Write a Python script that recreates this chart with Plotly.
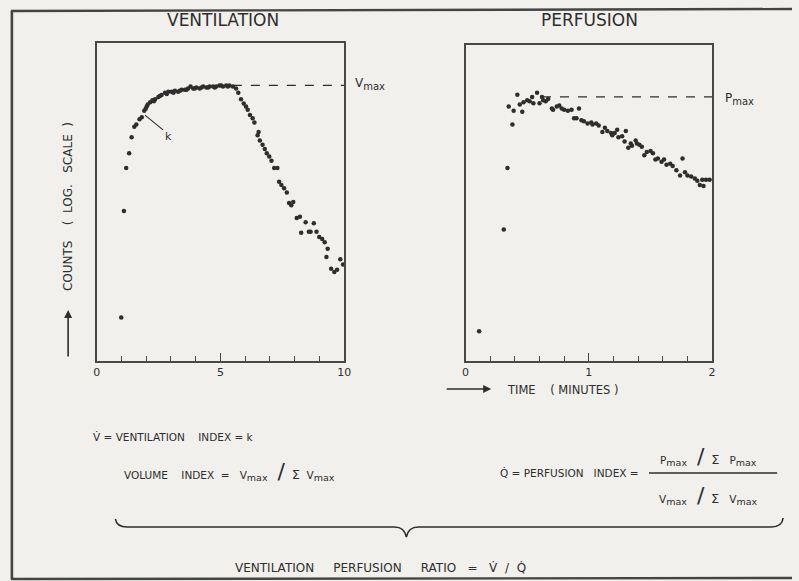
import plotly.graph_objects as go

# ---------------- data (counts given as log10 units) ----------------
vent_time = [0.99, 1.10, 1.19, 1.31, 1.41, 1.52, 1.60, 1.73, 1.82, 1.92, 1.98, 2.06, 2.16, 2.25,
             2.36, 2.49, 2.62, 2.76, 2.89, 3.03, 3.16, 3.29, 3.43, 3.56, 3.69, 3.79, 3.90, 4.03,
             4.16, 4.30, 4.43, 4.56, 4.70, 4.83, 4.96, 5.10, 5.23, 5.36, 5.50, 5.63, 5.72, 5.83,
             5.94, 6.03, 6.10, 6.19, 6.30, 6.37, 6.50, 6.54, 6.59, 6.70, 6.79, 6.87, 6.97, 7.06,
             7.17, 7.30, 7.37, 7.46, 7.57, 7.68, 7.77, 7.86, 7.94, 8.08, 8.21, 8.26, 8.44, 8.57,
             8.64, 8.77, 8.88, 8.99, 9.11, 9.21, 9.28, 9.33, 9.47, 9.60, 9.71, 9.84, 9.95,
             2.02, 2.31, 2.55, 2.83, 3.10, 3.36, 3.63, 3.96, 4.23, 4.50, 4.77, 5.03, 5.30]
vent_log_counts = [0.41, 1.415, 1.82, 1.96, 2.11, 2.21, 2.23, 2.28, 2.30, 2.36, 2.38, 2.42, 2.44, 2.46,
                   2.47, 2.49, 2.51, 2.53, 2.54, 2.54, 2.55, 2.54, 2.56, 2.56, 2.57, 2.59, 2.57, 2.58,
                   2.57, 2.59, 2.58, 2.59, 2.59, 2.59, 2.60, 2.59, 2.60, 2.60, 2.59, 2.57, 2.53, 2.47,
                   2.43, 2.40, 2.37, 2.32, 2.29, 2.25, 2.13, 2.16, 2.08, 2.04, 2.00, 1.96, 1.93, 1.89,
                   1.82, 1.82, 1.69, 1.66, 1.63, 1.59, 1.49, 1.47, 1.50, 1.35, 1.36, 1.21, 1.31, 1.22,
                   1.22, 1.30, 1.22, 1.17, 1.15, 1.12, 0.98, 1.06, 0.87, 0.84, 0.86, 0.96, 0.91,
                   2.40, 2.45, 2.50, 2.52, 2.53, 2.55, 2.56, 2.57, 2.58, 2.58, 2.58, 2.60, 2.59]

perf_time = [0.11, 0.31, 0.34, 0.38, 0.35, 0.39, 0.42, 0.44, 0.46, 0.47, 0.50, 0.52, 0.54, 0.55,
             0.58, 0.60, 0.62, 0.63, 0.65, 0.67, 0.70, 0.71, 0.74, 0.76, 0.78, 0.80, 0.83, 0.86,
             0.88, 0.90, 0.92, 0.94, 0.96, 0.99, 1.02, 1.03, 1.06, 1.08, 1.11, 1.13, 1.15, 1.18,
             1.19, 1.21, 1.23, 1.24, 1.27, 1.29, 1.30, 1.32, 1.34, 1.35, 1.38, 1.39, 1.41, 1.43,
             1.45, 1.47, 1.50, 1.52, 1.54, 1.56, 1.59, 1.61, 1.63, 1.66, 1.68, 1.71, 1.74, 1.76,
             1.78, 1.80, 1.83, 1.86, 1.88, 1.90, 1.92, 1.93, 1.95, 1.98]
perf_log_counts = [0.28, 1.24, 1.82, 2.23, 2.40, 2.36, 2.51, 2.42, 2.35, 2.44, 2.46, 2.45, 2.49, 2.43,
                   2.53, 2.43, 2.49, 2.46, 2.45, 2.47, 2.38, 2.37, 2.40, 2.41, 2.38, 2.37, 2.36, 2.37,
                   2.29, 2.29, 2.38, 2.27, 2.26, 2.24, 2.25, 2.23, 2.24, 2.22, 2.16, 2.20, 2.17, 2.15,
                   2.13, 2.15, 2.18, 2.11, 2.12, 2.07, 2.17, 2.01, 2.05, 2.03, 2.08, 2.05, 2.04, 2.02,
                   1.94, 1.97, 1.98, 1.96, 1.90, 1.91, 1.88, 1.90, 1.85, 1.86, 1.84, 1.80, 1.75, 1.91,
                   1.78, 1.75, 1.74, 1.72, 1.70, 1.66, 1.71, 1.65, 1.71, 1.71]

vent_ticks = [0, 5, 10]
perf_ticks = [0, 1, 2]

# ---------------- styling ----------------
W, H = 799, 581
BG = "#f1f0ec"
INK = "#2e2e2e"
FONT = "DejaVu Sans, Liberation Sans, sans-serif"


def px(X):
    return X / W


def py(Y):
    return 1 - Y / H


fig = go.Figure()
fig.add_trace(go.Scatter(x=vent_time, y=vent_log_counts, mode="markers", xaxis="x", yaxis="y",
                         marker=dict(size=4.5, color=INK), showlegend=False, hoverinfo="skip"))
fig.add_trace(go.Scatter(x=perf_time, y=perf_log_counts, mode="markers", xaxis="x2", yaxis="y2",
                         marker=dict(size=4.5, color=INK), showlegend=False, hoverinfo="skip"))

axis_common = dict(showline=True, linecolor="#484848", linewidth=1.6, mirror=True,
                   showgrid=False, zeroline=False, ticks="inside", tickcolor="#484848",
                   tickwidth=1.4, ticklen=8, tickfont=dict(family=FONT, size=11, color=INK))
yaxis_common = dict(showline=True, linecolor="#484848", linewidth=1.6, mirror=True,
                    showgrid=False, zeroline=False, showticklabels=False, ticks="")

fig.update_layout(
    width=W, height=H, margin=dict(l=0, r=0, t=0, b=0),
    paper_bgcolor=BG, plot_bgcolor=BG,
    font=dict(family=FONT, color=INK, size=11),
    xaxis=dict(domain=[px(94), px(345)], range=[0, 10], tickmode="array", tickvals=vent_ticks,
               minor=dict(dtick=1, ticks="inside", ticklen=5, tickcolor="#484848", tickwidth=1.2),
               anchor="y", **axis_common),
    yaxis=dict(domain=[py(361), py(43)], range=[0, 3.0], anchor="x", **yaxis_common),
    xaxis2=dict(domain=[px(468), px(718)], range=[0, 2], tickmode="array", tickvals=perf_ticks,
                minor=dict(dtick=0.2, ticks="inside", ticklen=5, tickcolor="#484848", tickwidth=1.2),
                anchor="y2", **axis_common),
    yaxis2=dict(domain=[py(361), py(45)], range=[0, 2.98], anchor="x2", **yaxis_common),
)

# ---------------- Vmax / Pmax reference lines (derived from data) ----------------
vmax = max(vent_log_counts)
v_start = max(t for t, v in zip(vent_time, vent_log_counts) if v >= vmax - 0.02)
pmax = sorted(perf_log_counts)[-4]
p_start = max(t for t, v in zip(perf_time, perf_log_counts) if v >= pmax)
fig.add_shape(type="line", xref="x", yref="y", x0=v_start, x1=10, y0=vmax, y1=vmax,
              line=dict(color=INK, width=1.2, dash="dash"))
fig.add_shape(type="line", xref="x2", yref="y2", x0=p_start, x1=2, y0=pmax, y1=pmax,
              line=dict(color=INK, width=1.2, dash="dash"))

# k pointer
fig.add_shape(type="line", xref="x", yref="y", x0=1.95, y0=2.32, x1=2.68, y1=2.18,
              line=dict(color=INK, width=1.1))

ann = []


def text(X, Y, s, size=11, xanchor="left", yanchor="middle", angle=0):
    ann.append(dict(x=px(X), y=py(Y), xref="paper", yref="paper", text=s, showarrow=False,
                    xanchor=xanchor, yanchor=yanchor, textangle=angle,
                    font=dict(family=FONT, size=size, color=INK)))


def sub(s, size=9.5):
    return "<sub><span style='font-size:%spx'>%s</span></sub>" % (size, s)


SL = "<span style='font-size:22px'>/</span>"
SIG = "<span style='font-size:13px'>\u03a3</span>"

text(0, 0, "k", size=11, xanchor="center")
ann[-1].update(x=2.92, y=2.12, xref="x", yref="y")
text(354, 84, "V" + sub("max", 10), size=12)
text(729, 99, "P" + sub("max", 10), size=12)

# titles
text(222, 20, "VENTILATION", size=17, xanchor="center")
text(594, 20, "PERFUSION", size=17, xanchor="center")

# y axis title and arrow
text(65, 207, "COUNTS    (  LOG.   SCALE  )", size=12, xanchor="center", angle=-90)
ann.append(dict(x=px(65), y=py(310), xref="paper", yref="paper", ax=0, ay=48, text="",
                showarrow=True, arrowhead=2, arrowsize=1, arrowwidth=1.6, arrowcolor=INK))
# time arrow + label
ann.append(dict(x=px(494), y=py(389), xref="paper", yref="paper", ax=-46, ay=0, text="",
                showarrow=True, arrowhead=2, arrowsize=1, arrowwidth=1.6, arrowcolor=INK))
text(508, 390, "TIME    ( MINUTES )", size=11.5)

# formulas
VM = "V" + sub("max")
PM = "P" + sub("max")
text(88, 437, "V\u0307 = VENTILATION    INDEX = k", size=10.5)
text(120, 471, "VOLUME    INDEX  =   " + VM + "   " + SL + "  " + SIG + "  " + VM, size=10.5)
text(501, 473, "Q\u0307 = PERFUSION   INDEX =", size=10.5)
text(714, 456, PM + "   " + SL + "  " + SIG + "   " + PM, size=10.5, xanchor="center")
text(714, 495, VM + "   " + SL + "  " + SIG + "   " + VM, size=10.5, xanchor="center")
text(232, 568, "VENTILATION     PERFUSION     RATIO   =   V\u0307  /  Q\u0307", size=12)

fig.update_layout(annotations=ann)

# fraction bar
fig.add_shape(type="line", xref="paper", yref="paper", x0=px(654), x1=px(784), y0=py(473), y1=py(473),
              line=dict(color=INK, width=1.4))

# brace
pts = [("M", 113, 519), ("Q", 114, 527, 125, 527), ("L", 396, 527), ("Q", 406, 527, 408, 537),
       ("Q", 410, 527, 420, 527), ("L", 778, 527), ("Q", 789, 527, 790, 518)]
path = ""
for p in pts:
    cmd = p[0]
    coords = p[1:]
    path += cmd + " " + " ".join(
        f"{px(coords[i]):.5f},{py(coords[i + 1]):.5f}" for i in range(0, len(coords), 2)) + " "
fig.add_shape(type="path", xref="paper", yref="paper", path=path.strip(),
              line=dict(color=INK, width=1.6))

# outer frame (open on the right)
fig.add_shape(type="line", xref="paper", yref="paper", x0=px(8), x1=px(8), y0=py(579), y1=py(11),
              line=dict(color="#444", width=2.6))
fig.add_shape(type="line", xref="paper", yref="paper", x0=px(7), x1=1.0, y0=py(11), y1=py(9),
              line=dict(color="#444", width=2.4))
fig.add_shape(type="line", xref="paper", yref="paper", x0=px(7), x1=1.0, y0=py(579), y1=py(578),
              line=dict(color="#444", width=2.4))

fig.write_html("out.html", config={"displayModeBar": False},
               post_script="document.body.style.margin='0';document.body.style.overflow='hidden';"
                           "document.body.style.background='" + BG + "';")
